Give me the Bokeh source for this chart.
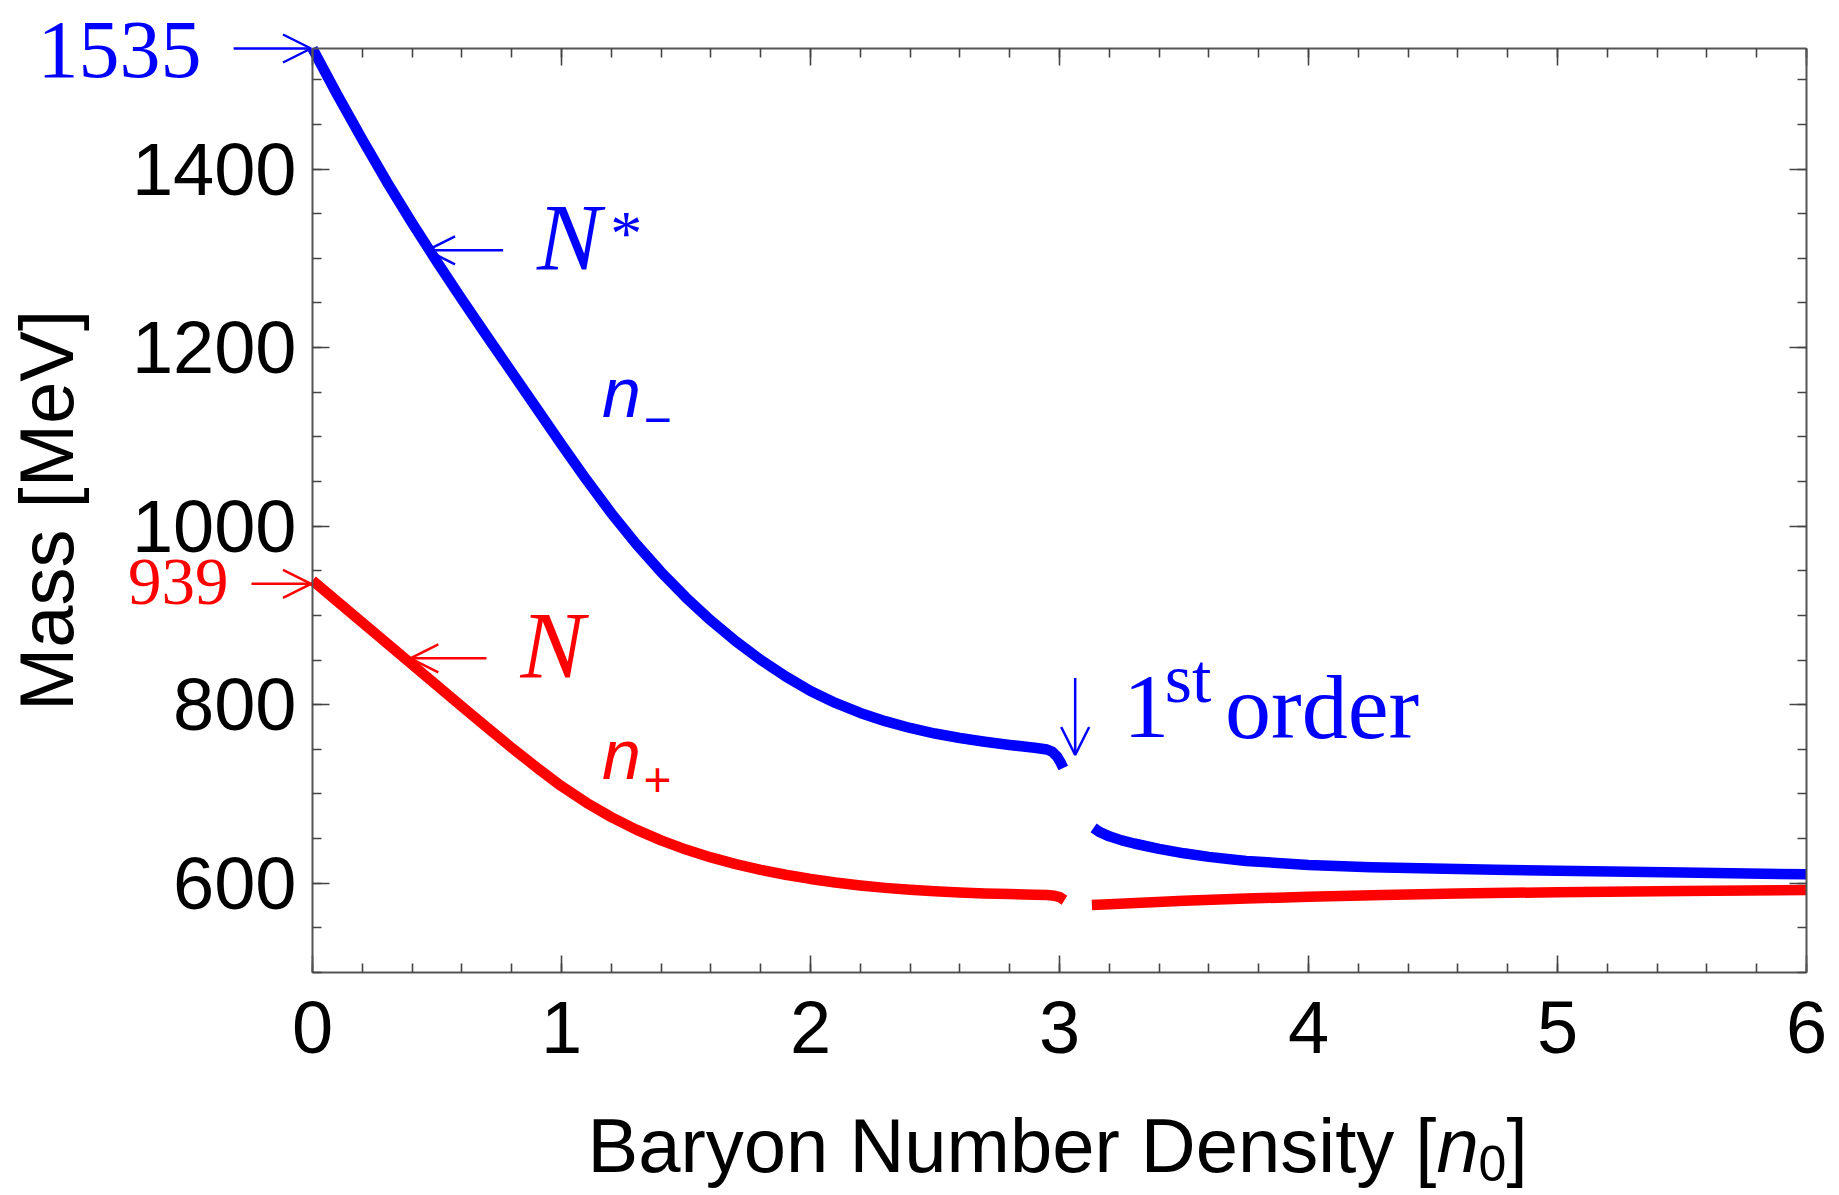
import math
from bokeh.plotting import figure
from bokeh.models import (Label, Range1d, LinearAxis, SingleIntervalTicker, Arrow, OpenHead)
from bokeh.embed import file_html
from bokeh.resources import INLINE

# ---------------- data ----------------
blue_left_x = [0.0, 0.1, 0.2, 0.3, 0.4, 0.5, 0.6, 0.7, 0.8, 0.9, 1.0, 1.1, 1.2, 1.3, 1.4, 1.5,
               1.6, 1.7, 1.8, 1.9, 2.0, 2.1, 2.2, 2.3, 2.4, 2.5, 2.6, 2.7, 2.8, 2.9,
               2.95, 2.97, 2.99, 3.005, 3.015]
blue_left_m = [1535, 1483, 1433, 1385, 1339.5, 1296, 1254, 1213, 1172.5, 1132, 1091.5, 1052, 1014.5, 980, 948.5, 920,
               894.2, 871, 850.2, 831.7, 815.4, 801.9, 790.7, 781.5, 773.9, 767.7, 762.7, 758.5, 754.9, 751.8,
               749.8, 747.5, 742, 735, 729]
blue_right_x = [3.137, 3.16, 3.2, 3.25, 3.3, 3.4, 3.5, 3.6, 3.75, 4.0, 4.25, 4.5, 4.75, 5.0, 5.5, 6.0]
blue_right_m = [662, 657.5, 652.5, 648, 644.5, 638.5, 633.5, 629.5, 625, 620.5, 618, 616.5, 615, 614, 612, 610]

red_left_x = [0.0, 0.1, 0.2, 0.3, 0.4, 0.5, 0.6, 0.7, 0.8, 0.9, 1.0, 1.1, 1.2, 1.3, 1.4, 1.5, 1.6,
              1.7, 1.8, 1.9, 2.0, 2.1, 2.2, 2.3, 2.4, 2.5, 2.6, 2.7, 2.8, 2.9, 2.95, 2.98, 3.0, 3.02]
red_left_m = [939, 915.5, 892, 868.5, 845, 821.5, 798, 774.7, 751.7, 729.7, 708.7, 690.2, 674, 660, 648, 637.7, 628.9,
              621.4, 615, 609.5, 604.8, 600.8, 597.5, 594.8, 592.6, 590.9, 589.6, 588.6, 587.8, 587.2, 586.8, 586,
              584.5, 581]
red_right_x = [3.13, 3.2, 3.35, 3.5, 3.75, 4.0, 4.3, 4.6, 5.0, 5.5, 6.0]
red_right_m = [575.7, 576.5, 578.5, 580.3, 582.8, 584.8, 586.8, 588.4, 590, 591.4, 592.5]

x_limits = (0, 6)
y_limits = (500, 1535)
m_Nstar_vacuum = 1535
m_N_vacuum = 939
transition_density = 3.063

BLUE = "#0000FF"
RED = "#FF0000"
SERIF = "Liberation Serif"
SANS = "Liberation Sans"

# ---------------- geometry (pixels) ----------------
W, H = 1836, 1192                 # canvas
BOX_L, BOX_R, BOX_T, BOX_B = 312, 1806, 48, 972   # plot box inside the canvas
xpp = (x_limits[1] - x_limits[0]) / (BOX_R - BOX_L)
ypp = (y_limits[1] - y_limits[0]) / (BOX_B - BOX_T)
x_range = Range1d(x_limits[0] - BOX_L * xpp, x_limits[1] + (W - BOX_R) * xpp)
y_range = Range1d(y_limits[0] - (H - BOX_B) * ypp, y_limits[1] + BOX_T * ypp)

p = figure(frame_width=W, frame_height=H, x_range=x_range, y_range=y_range,
           min_border=0, min_border_left=0, min_border_right=0, min_border_top=0, min_border_bottom=0,
           output_backend="svg", toolbar_location=None,
           x_axis_location=None, y_axis_location=None)
p.background_fill_color = "white"
p.border_fill_color = "white"
p.grid.visible = False
p.outline_line_color = None


def make_axis(loc, bounds, ticker, show_labels):
    ax = LinearAxis(ticker=ticker, fixed_location=loc, bounds=bounds)
    ax.axis_line_color = "#555555"
    ax.axis_line_width = 2
    ax.major_tick_in = 17
    ax.major_tick_out = 0
    ax.minor_tick_in = 9
    ax.minor_tick_out = 0
    ax.major_tick_line_color = "#444444"
    ax.minor_tick_line_color = "#444444"
    ax.major_tick_line_width = 1.6
    ax.minor_tick_line_width = 1.6
    if show_labels:
        ax.major_label_text_font = SANS
        ax.major_label_text_font_size = "74px"
        ax.major_label_text_color = "black"
    else:
        ax.major_label_text_color = None
        ax.major_label_standoff = 0
    return ax


bx = make_axis(y_limits[0], x_limits, SingleIntervalTicker(interval=1, num_minor_ticks=5), True)
bx.major_label_standoff = 29
ly = make_axis(x_limits[0], y_limits, SingleIntervalTicker(interval=200, num_minor_ticks=4), True)
ly.major_label_standoff = 16
ly.axis_label = "Mass [MeV]"
ly.axis_label_text_font = SANS
ly.axis_label_text_font_size = "76px"
ly.axis_label_text_font_style = "normal"
ly.axis_label_text_color = "black"
ly.axis_label_standoff = 40
tx = make_axis(y_limits[1], x_limits, SingleIntervalTicker(interval=1, num_minor_ticks=5), False)
ry = make_axis(x_limits[1], y_limits, SingleIntervalTicker(interval=200, num_minor_ticks=4), False)
p.add_layout(bx, "below")
p.add_layout(ly, "left")
p.add_layout(tx, "above")
p.add_layout(ry, "right")

# ---------------- curves ----------------
for xs, ms, c in [(blue_left_x, blue_left_m, BLUE), (blue_right_x, blue_right_m, BLUE),
                  (red_left_x, red_left_m, RED), (red_right_x, red_right_m, RED)]:
    p.line(xs, ms, line_color=c, line_width=10.5, line_cap="butt", line_join="round")


# ---------------- annotations ----------------
def lab(x, y, text, color, size, font, style="normal", align="left", baseline="alphabetic"):
    p.add_layout(Label(x=x, y=y, text=text, text_color=color, text_font_size=f"{size}px",
                       text_font=font, text_font_style=style, text_align=align,
                       text_baseline=baseline))


def arrow(x0, y0, x1, y1, color):
    p.add_layout(Arrow(x_start=x0, y_start=y0, x_end=x1, y_end=y1, line_color=color, line_width=2.5,
                       end=OpenHead(size=28, line_color=color, line_width=2.5)))


# vacuum masses
lab(-0.446, 1533.7, str(m_Nstar_vacuum), BLUE, 82, SERIF, align="right")
arrow(-0.317, m_Nstar_vacuum, -0.006, m_Nstar_vacuum, BLUE)
lab(-0.337, 936.9, str(m_N_vacuum), RED, 67, SERIF, align="right")
arrow(-0.245, 935.4, -0.006, 935.4, RED)

arrow(0.7655, 1309, 0.46, 1309, BLUE)
lab(0.902, 1323.4, "N", BLUE, 96, SERIF, style="italic")
lab(1.196, 1327.4, "*", BLUE, 64, SERIF)

arrow(0.6985, 851.9, 0.393, 851.9, RED)
lab(0.835, 866.3, "N", RED, 96, SERIF, style="italic")

arrow(transition_density, 829.8, transition_density, 743.6, BLUE)
lab(3.256, 797.5, "1", BLUE, 92, SERIF)
lab(3.423, 829.7, "st", BLUE, 70, SERIF)
lab(3.665, 797.5, "order", BLUE, 92, SERIF)

lab(1.163, 1148.9, "n", BLUE, 70, SANS, style="italic")
lab(1.329, 1119.7, "\u2212", BLUE, 48, SANS)
lab(1.163, 744.0, "n", RED, 70, SANS, style="italic")
lab(1.329, 716.7, "+", RED, 48, SANS)

# x-axis title: "Baryon Number Density [n0]" with italic n and subscript 0
lab(4.514, 306.0, "Baryon Number Density [", "black", 76, SANS, align="right")
lab(4.514, 306.0, "n", "black", 76, SANS, style="italic")
lab(4.683, 286.1, "0", "black", 50, SANS)
lab(4.795, 306.0, "]", "black", 76, SANS)

open("out.html", "w").write(file_html(p, INLINE))
